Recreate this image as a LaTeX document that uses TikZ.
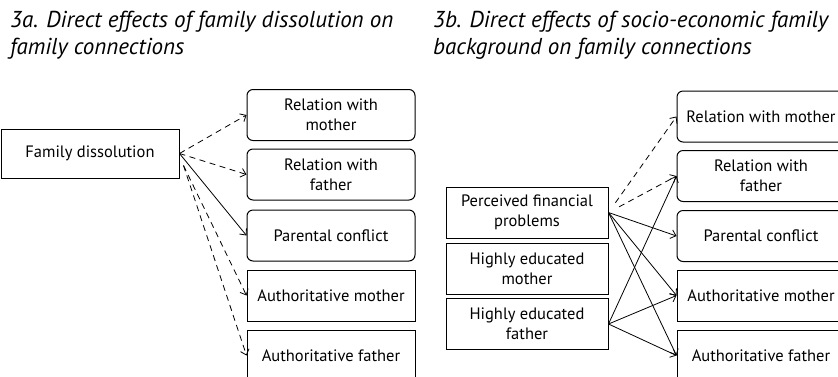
\documentclass[tikz,border=0pt]{standalone}
\usepackage{fontspec}
\setmainfont{PT Sans}
\usetikzlibrary{positioning, calc, arrows.meta}

\tikzset{
  box/.style={draw, line width=1pt, minimum width=168pt, minimum height=51pt,
    inner sep=2pt, align=center, font=\fontsize{16.5}{20}\selectfont},
  rbox/.style={box, rounded corners=6pt},
  link/.style={line width=0.8pt, -{Straight Barb[length=5pt,width=9pt]}},
  dlink/.style={link, dash pattern=on 6pt off 4.5pt},
  title/.style={anchor=north west, inner sep=0pt, align=left,
    font=\fontsize{23}{27}\selectfont\itshape}
}

\begin{document}
\begin{tikzpicture}[x=1pt, y=-1pt]
        \clip (0,0) rectangle (838,376);

        % the titles
        \node[title] (ta) at (10,11) {3a. Direct effects of family dissolution on\\family connections};
        \node[title] (tb) at (433,11) {3b. Direct effects of socio-economic family\\background on family connections};

        % panel 3a
        \node[box, minimum width=178pt, minimum height=49pt] (FD) at (90,153.5) {Family dissolution};
        \node[rbox] (RMa) at (331,115)   {Relation with\\mother};
        \node[rbox] (RFa) at (331,174.5) {Relation with\\father};
        \node[rbox] (PCa) at (331,235.5) {Parental conflict};
        \node[box]  (AMa) at (331,295.5) {Authoritative mother};
        \node[box]  (AFa) at (331,355.5) {Authoritative father};

        \coordinate (FDs) at ($ (FD.east)+(4,12) $);

        \draw[dlink] (FD.east) -- (RMa.west);
        \draw[dlink] (FD.east) -- (RFa.west);
        \draw[link]  (FD.east) -- (PCa.west);
        \draw[dlink] (FDs) -- (AMa.west);
        \draw[dlink] (FDs) -- (AFa.west);

        % panel 3b
        \node[box, minimum width=162pt] (PF) at (527,212.5) {Perceived financial\\problems};
        \node[box, minimum width=162pt] (HM) at (527,268.5) {Highly educated\\mother};
        \node[box, minimum width=162pt] (HF) at (527,324)   {Highly educated\\father};
        \node[rbox] (RMb) at (761,116.5) {Relation with mother};
        \node[rbox] (RFb) at (761,176)   {Relation with\\father};
        \node[rbox] (PCb) at (761,236)   {Parental conflict};
        \node[box]  (AMb) at (761,295.5) {Authoritative mother};
        \node[box]  (AFb) at (761,355.5) {Authoritative father};

        % financial problems
        \draw[dlink, shorten <=12pt] (PF.east) -- (RMb.west);
        \draw[dlink, shorten <=12pt] (PF.east) -- (RFb.west);
        \draw[link] (PF.east) -- (PCb.west);
        \draw[link] (PF.east) -- (AMb.west);
        \draw[link] (PF.east) -- (AFb.west);

        % educated father
        \draw[link] (HF.east) -- (RFb.west);
        \draw[link] (HF.east) -- (AMb.west);
        \draw[link] (HF.east) -- (AFb.west);
\end{tikzpicture}
\end{document}
